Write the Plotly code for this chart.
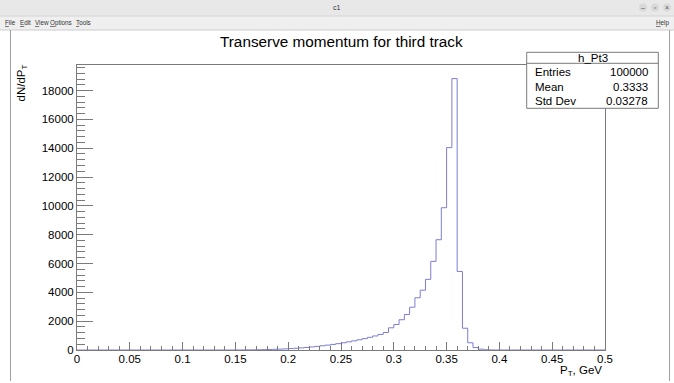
import plotly.graph_objects as go

# ---------------- data ----------------
bin_low = 0.0
bin_high = 0.5
n_bins = 100
# counts per bin (bins of width 0.005 from 0 to 0.5)
counts = [0] * 30 + [
    3, 5, 8, 12, 18,            # 0.150 - 0.175
    26, 36, 48, 62, 78,         # 0.175 - 0.200
    98, 120, 146, 176, 210,     # 0.200 - 0.225
    250, 292, 338, 388, 440,    # 0.225 - 0.250
    500, 565, 635, 710, 790,    # 0.250 - 0.275
    880, 975, 1080, 1215, 1540, # 0.275 - 0.300
    1770, 2100, 2465, 2970, 3625,   # 0.300 - 0.325
    4150, 4900, 6150, 7650, 9870,   # 0.325 - 0.350
    14040, 18830, 5450, 1510, 500,  # 0.350 - 0.375
    170, 60, 15, 4,                 # 0.375 - 0.395
]
counts = counts + [0] * (n_bins - len(counts))

x_tick_step = 0.05
y_tick_step = 2000

hist_name = "h_Pt3"
stat_labels = ["Entries", "Mean", "Std Dev"]
stat_values = ["100000", "0.3333", "0.03278"]

title_text = "Transerve momentum for third track"
x_title = "P<sub>T</sub>, GeV"
y_title = "dN/dP<sub>T</sub>"
window_title = "c1"
menu_items = ["<u>F</u>ile", "<u>E</u>dit", "<u>V</u>iew", "<u>O</u>ptions", "<u>T</u>ools"]
help_item = "<u>H</u>elp"

# ---------------- geometry ----------------
W, H = 674, 383
L, R, T, B = 77, 605, 65, 350
FONT = "Liberation Sans, Arial, Helvetica, sans-serif"
AX = "#7a7a7a"


def px(x):
    return (x - L) / (R - L)


def py(y):
    return (B - y) / (B - T)


width = (bin_high - bin_low) / n_bins
edges = [bin_low + i * width for i in range(n_bins + 1)]
xs = edges
ys = counts + [counts[-1]]
ymax = 1.05 * max(counts)

fig = go.Figure()
fig.add_trace(go.Scatter(
    x=xs, y=ys, mode="lines", line=dict(shape="hv", color="rgb(125,125,212)", width=1),
    hoverinfo="skip", showlegend=False,
))

shapes = []
annotations = []

# window chrome
shapes.append(dict(type="rect", xref="paper", yref="paper", x0=px(0), x1=px(W), y0=py(0), y1=py(16),
                   fillcolor="#e8e8e8", line=dict(width=0), layer="below"))
shapes.append(dict(type="rect", xref="paper", yref="paper", x0=px(0), x1=px(W), y0=py(16), y1=py(30),
                   fillcolor="#efefef", line=dict(width=0), layer="below"))
shapes.append(dict(type="line", xref="paper", yref="paper", x0=px(0), x1=px(W), y0=py(16), y1=py(16),
                   line=dict(color="#d4d4d4", width=1), layer="below"))
shapes.append(dict(type="line", xref="paper", yref="paper", x0=px(0), x1=px(W), y0=py(30), y1=py(30),
                   line=dict(color="#cccccc", width=1), layer="below"))
for xl in (10.5, 669.5):
    shapes.append(dict(type="line", xref="paper", yref="paper", x0=px(xl), x1=px(xl), y0=py(30), y1=py(381),
                       line=dict(color="#a0a0a0", width=1), layer="below"))
for cx, sym in ((643, "–"), (655, "▫"), (667, "×")):
    shapes.append(dict(type="circle", xref="paper", yref="paper", x0=px(cx - 4), x1=px(cx + 4),
                       y0=py(3.5), y1=py(11.5), fillcolor="#d9d9d9", line=dict(width=0), layer="below"))
    annotations.append(dict(text=sym, xref="paper", yref="paper", x=px(cx), y=py(7.5), showarrow=False,
                            xanchor="center", yanchor="middle", font=dict(size=7, color="#555555", family=FONT)))
annotations.append(dict(text=window_title, xref="paper", yref="paper", x=px(337), y=py(7.5), showarrow=False,
                        xanchor="center", yanchor="middle", font=dict(size=7, color="#333333", family=FONT)))
menu_x = [3, 18, 33, 48, 74]
for mx, item in zip(menu_x, menu_items):
    annotations.append(dict(text=item, xref="paper", yref="paper", x=px(mx), y=py(23), showarrow=False,
                            xanchor="left", yanchor="middle", font=dict(size=6.3, color="#333333", family=FONT)))
annotations.append(dict(text=help_item, xref="paper", yref="paper", x=px(671), y=py(23), showarrow=False,
                        xanchor="right", yanchor="middle", font=dict(size=6.3, color="#333333", family=FONT)))

# title
annotations.append(dict(text=title_text, xref="paper", yref="paper", x=px(341), y=py(42), showarrow=False,
                        xanchor="center", yanchor="middle", font=dict(size=15.3, color="black", family=FONT)))
# axis titles
annotations.append(dict(text=x_title, xref="paper", yref="paper", x=px(604), y=py(371), showarrow=False,
                        xanchor="right", yanchor="middle", font=dict(size=11.5, color="black", family=FONT)))
annotations.append(dict(text=y_title, xref="paper", yref="paper", x=px(21.5), y=py(83), showarrow=False,
                        textangle=-90, xanchor="center", yanchor="middle",
                        font=dict(size=11.5, color="black", family=FONT)))

# stats box
bx0, bx1, by0, by1, bsep = 526.7, 658.3, 52.3, 108.3, 63.3
shapes.append(dict(type="rect", xref="paper", yref="paper", x0=px(bx0), x1=px(bx1), y0=py(by0), y1=py(by1),
                   fillcolor="white", line=dict(color=AX, width=1), layer="above"))
shapes.append(dict(type="line", xref="paper", yref="paper", x0=px(bx0), x1=px(bx1), y0=py(bsep), y1=py(bsep),
                   line=dict(color=AX, width=1), layer="above"))
annotations.append(dict(text=hist_name, xref="paper", yref="paper", x=px((bx0 + bx1) / 2), y=py(58),
                        showarrow=False, xanchor="center", yanchor="middle",
                        font=dict(size=11.5, color="black", family=FONT)))
row_y = [72.5, 87.2, 101.5]
for ry, lab, val in zip(row_y, stat_labels, stat_values):
    annotations.append(dict(text=lab, xref="paper", yref="paper", x=px(533), y=py(ry), showarrow=False,
                            xanchor="left", yanchor="middle", font=dict(size=11.5, color="black", family=FONT)))
    annotations.append(dict(text=val, xref="paper", yref="paper", x=px(650), y=py(ry), showarrow=False,
                            xanchor="right", yanchor="middle", font=dict(size=11.5, color="black", family=FONT)))

fig.update_layout(
    width=W, height=H,
    margin=dict(l=L, r=W - R, t=T, b=H - B, pad=0),
    paper_bgcolor="white", plot_bgcolor="white",
    showlegend=False,
    shapes=shapes, annotations=annotations,
    xaxis=dict(
        range=[bin_low, bin_high], dtick=x_tick_step, tick0=0, showgrid=False, zeroline=False,
        showline=True, linecolor=AX, linewidth=1, mirror=True,
        ticks="inside", ticklen=8.5, tickcolor=AX, tickwidth=1, ticklabelstandoff=-2,
        minor=dict(dtick=x_tick_step / 5, tick0=0, ticks="inside", ticklen=4.3, tickcolor=AX, tickwidth=1,
                   showgrid=False),
        tickfont=dict(size=11.5, color="black", family=FONT), automargin=False,
    ),
    yaxis=dict(
        range=[0, ymax], dtick=y_tick_step, tick0=0, showgrid=False, zeroline=False, tickformat="d",
        showline=True, linecolor=AX, linewidth=1, mirror=True,
        ticks="inside", ticklen=16, tickcolor=AX, tickwidth=1,
        minor=dict(dtick=y_tick_step / 5, tick0=0, ticks="inside", ticklen=8, tickcolor=AX, tickwidth=1,
                   showgrid=False),
        tickfont=dict(size=11.5, color="black", family=FONT), automargin=False,
    ),
)

fig.write_html("out.html")
